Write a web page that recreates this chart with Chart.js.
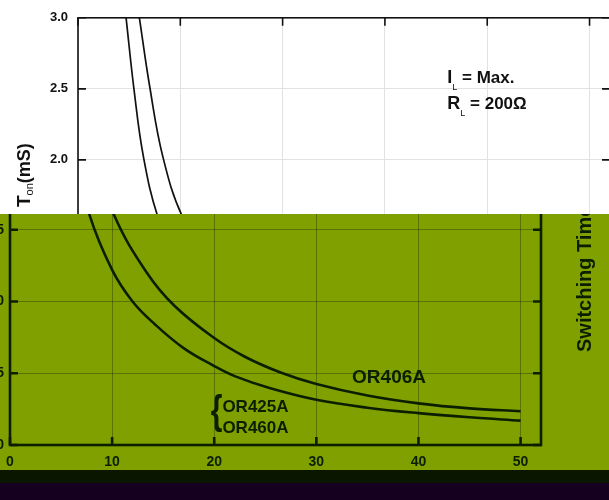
<!DOCTYPE html>
<html>
<head>
<meta charset="utf-8">
<script src="https://cdn.jsdelivr.net/npm/chart.js@4.4.1/dist/chart.umd.min.js"></script>
<style>
  html, body { margin: 0; padding: 0; width: 609px; height: 500px; overflow: hidden; background: #fff; }
  .crop { position: absolute; overflow: hidden; }
  #topBox { left: 0; top: 0; width: 609px; height: 214px; background: #fff; }
  #botBox { left: 0; top: 214px; width: 609px; height: 256px; background: #80a000; }
  #topBox canvas { position: absolute; left: 0; top: 0; }
  #botBox canvas { position: absolute; left: -40px; top: -214px; }
  #band1 { position: absolute; left: 0; top: 470px; width: 609px; height: 13px; background: #0b1600; }
  #band2 { position: absolute; left: 0; top: 483px; width: 609px; height: 17px; background: #15001f; }
</style>
</head>
<body>
<div id="topBox" class="crop"><canvas id="topChart" width="640" height="500"></canvas></div>
<div id="botBox" class="crop"><canvas id="botChart" width="660" height="500"></canvas></div>
<div id="band1"></div>
<div id="band2"></div>
<script>
// Data
var xLow = [4.7, 5.5, 6.4, 7.8, 10, 12, 14.2, 17, 20, 22, 25.5, 30, 35, 40, 45, 50]
var yLow = [3.0, 2.48, 2.02, 1.6, 1.22, 1.0, 0.84, 0.675, 0.55, 0.48, 0.395, 0.315, 0.26, 0.222, 0.193, 0.17]
var xHigh = [6.0, 7.0, 8.3, 10.2, 13.4, 16.1, 20, 23, 26.5, 30, 35, 40, 45, 50]
var yHigh = [3.0, 2.52, 2.02, 1.6, 1.2, 0.97, 0.745, 0.615, 0.505, 0.425, 0.345, 0.29, 0.255, 0.235]
var xTicks = [0, 10, 20, 30, 40, 50]
var yTicks = [0, 0.5, 1.0, 1.5, 2.0, 2.5, 3.0]
var seriesNames = ['OR406A', 'OR425A / OR460A']

var FONT = '"Liberation Sans", Arial, sans-serif'

function pts(xs, ys) {
    return xs.map(function (x, i) { return { x: x, y: ys[i] } })
}

function drawRich(ctx, x, y, parts) {
    var cx = x
    parts.forEach(function (p) {
        ctx.font = p.font
        ctx.fillText(p.t, cx, y + (p.dy || 0))
        cx += ctx.measureText(p.t).width + (p.gap || 0)
    })
}

// frame + inward tick marks
var framePlugin = {
    id: 'frame',
    afterDatasetsDraw: function (chart, args, opts) {
        var ctx = chart.ctx, a = chart.chartArea, sx = chart.scales.x, sy = chart.scales.y
        ctx.save()
        ctx.strokeStyle = opts.color
        ctx.lineWidth = opts.width
        ctx.strokeRect(a.left, a.top, a.right - a.left, a.bottom - a.top)
        ctx.beginPath()
        xTicks.forEach(function (v) {
            var px = sx.getPixelForValue(v)
            ctx.moveTo(px, a.top); ctx.lineTo(px, a.top + 8)
            ctx.moveTo(px, a.bottom); ctx.lineTo(px, a.bottom - 8)
        })
        yTicks.forEach(function (v) {
            var py = sy.getPixelForValue(v)
            ctx.moveTo(a.left, py); ctx.lineTo(a.left + 8, py)
            ctx.moveTo(a.right, py); ctx.lineTo(a.right - 8, py)
        })
        ctx.stroke()
        ctx.restore()
    }
}

// text notes
var notesPlugin = {
    id: 'notes',
    afterDraw: function (chart, args, opts) {
        var ctx = chart.ctx, a = chart.chartArea, sx = chart.scales.x, sy = chart.scales.y
        ctx.save()
        ctx.fillStyle = opts.color
        ctx.textBaseline = 'alphabetic'
        ctx.textAlign = 'left'
        opts.items.forEach(function (n) {
            var px = n.vx !== undefined ? sx.getPixelForValue(n.vx) : a.left + n.dx
            var py = n.vy !== undefined ? sy.getPixelForValue(n.vy) : n.py
            ctx.save()
            ctx.translate(px, py)
            if (n.rot) ctx.rotate(-Math.PI / 2)
            if (n.scaleX) ctx.scale(n.scaleX, 1)
            drawRich(ctx, 0, 0, n.parts)
            ctx.restore()
        })
        ctx.restore()
    }
}

function makeChart(id, o) {
    var ctx = document.getElementById(id).getContext('2d')
    return new Chart(ctx, {
        type: 'line',
        data: {
            datasets: [{
                label: seriesNames[0],
                data: pts(xHigh, yHigh),
                borderColor: o.line,
                borderWidth: o.lineWidth,
                pointRadius: 0,
                tension: 0.4
            }, {
                label: seriesNames[1],
                data: pts(xLow, yLow),
                borderColor: o.line,
                borderWidth: o.lineWidth,
                pointRadius: 0,
                tension: 0.4
            }]
        },
        options: {
            responsive: false,
            animation: false,
            layout: { padding: o.padding },
            plugins: {
                legend: { display: false },
                tooltip: { enabled: false },
                frame: { color: o.line, width: o.frameWidth },
                notes: { color: o.text, items: o.notes }
            },
            scales: {
                x: {
                    type: 'linear', min: 0, max: 52,
                    afterFit: function (s) { s.height = o.xHeight },
                    border: { display: false },
                    grid: { color: o.grid, lineWidth: 1, drawTicks: false },
                    ticks: {
                        stepSize: 10, includeBounds: false, padding: 9,
                        color: o.text, font: { family: FONT, size: 14, weight: 'bold' }
                    }
                },
                y: {
                    type: 'linear', min: 0, max: 3,
                    afterFit: function (s) { s.width = o.yWidth },
                    border: { display: false },
                    grid: { color: o.grid, lineWidth: 1, drawTicks: false },
                    ticks: {
                        stepSize: 0.5, padding: o.yPad,
                        color: o.text, font: { family: FONT, size: o.yFont, weight: 'bold' },
                        callback: function (v) { return v === 0 ? '0' : v.toFixed(1) }
                    }
                }
            }
        },
        plugins: [framePlugin, notesPlugin]
    })
}

// upper crop (white)
makeChart('topChart', {
    line: '#111', lineWidth: 1.7, frameWidth: 1.6, grid: '#e2e2e2', text: '#111',
    padding: { left: 0, top: 12, right: 30, bottom: 0 },
    xHeight: 56, yWidth: 78, yPad: 10, yFont: 13,
    notes: [
        { vx: 36.1, vy: 2.54, parts: [
            { t: 'I', font: 'bold 18px ' + FONT },
            { t: 'L', font: '9px ' + FONT, dy: 7 },
            { t: ' = Max.', font: 'bold 17px ' + FONT }] },
        { vx: 36.1, vy: 2.36, parts: [
            { t: 'R', font: 'bold 18px ' + FONT },
            { t: 'L', font: '9px ' + FONT, dy: 7 },
            { t: ' = 200\u03A9', font: 'bold 17px ' + FONT }] },
        { dx: -48, py: 207, rot: true, parts: [
            { t: 'T', font: 'bold 19px ' + FONT },
            { t: 'on', font: '11px ' + FONT, dy: 3 },
            { t: '(mS)', font: 'bold 18px ' + FONT }] }
    ]
})

// lower crop (olive)
makeChart('botChart', {
    line: '#0b1f00', lineWidth: 2.6, frameWidth: 2.6, grid: 'rgba(40,60,0,0.45)', text: '#0b1f00',
    padding: { left: 0, top: 11, right: 79, bottom: 0 },
    xHeight: 55, yWidth: 50, yPad: 6, yFont: 14,
    notes: [
        { vx: 33.5, vy: 0.43, parts: [{ t: 'OR406A', font: 'bold 19px ' + FONT }] },
        { vx: 19.65, vy: 0.145, scaleX: 0.75, parts: [{ t: '{', font: 'bold 40px ' + FONT }] },
        { vx: 20.8, vy: 0.228, parts: [{ t: 'OR425A', font: 'bold 17px ' + FONT }] },
        { vx: 20.8, vy: 0.083, parts: [{ t: 'OR460A', font: 'bold 17px ' + FONT }] },
        { dx: 581, py: 352, rot: true, parts: [{ t: 'Switching Time', font: 'bold 20px ' + FONT }] }
    ]
})
</script>
</body>
</html>
